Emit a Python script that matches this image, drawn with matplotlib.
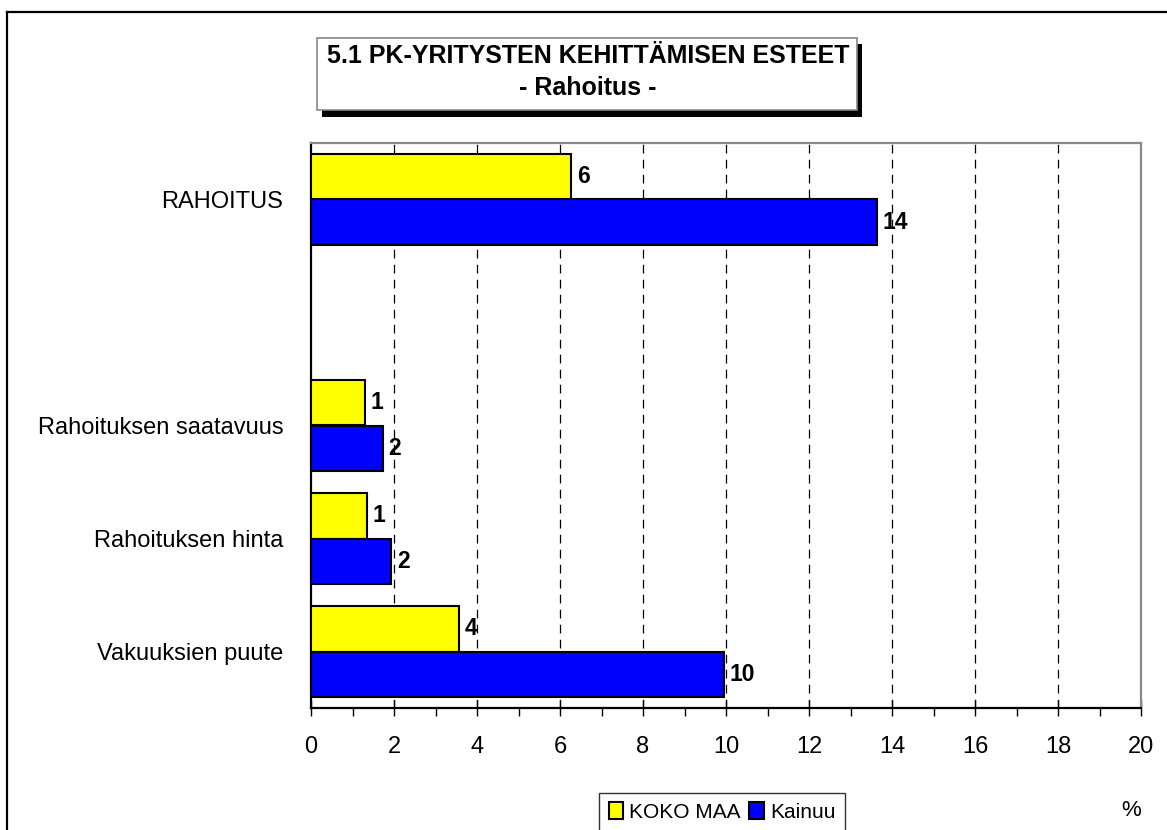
import matplotlib.pyplot as plt
from matplotlib.patches import Rectangle
from matplotlib.lines import Line2D
from matplotlib.ticker import MultipleLocator
import numpy as np

plt.rcParams['font.family'] = ['Liberation Sans', 'DejaVu Sans']

# data, bottom to top as drawn
categories = ["Vakuuksien puute", "Rahoituksen hinta", "Rahoituksen saatavuus", "", "RAHOITUS"]
koko_maa = [3.57, 1.35, 1.30, np.nan, 6.27]
kainuu = [9.95, 1.93, 1.73, np.nan, 13.64]
series_names = ["KOKO MAA", "Kainuu"]
x_ticks = list(range(0, 21, 2))

W, H = 1167, 830
fig = plt.figure(figsize=(W / 100, H / 100), dpi=100)

def fx(px):
    return px / W

def fy(py):
    return 1 - py / H

# outer frame (left + top only visible)
fig.add_artist(Line2D([fx(7), fx(7)], [fy(12), 0], color='black', lw=1.6, transform=fig.transFigure))
fig.add_artist(Line2D([fx(7), 1], [fy(12), fy(12)], color='black', lw=1.6, transform=fig.transFigure))

ax = fig.add_axes([fx(311), fy(708), fx(1141) - fx(311), (708 - 143) / H])

y = np.arange(len(categories))
h = 0.405
b1 = ax.barh(y + h / 2, koko_maa, height=h, color='#FFFF00', edgecolor='black', lw=1.5, label=series_names[0], zorder=3)
b2 = ax.barh(y - h / 2, kainuu, height=h, color='#0000FF', edgecolor='black', lw=1.5, label=series_names[1], zorder=3)

for bars, vals in ((b1, koko_maa), (b2, kainuu)):
    for bar, v in zip(bars, vals):
        if np.isnan(v):
            continue
        ax.text(v + 0.14, bar.get_y() + bar.get_height() / 2, "%d" % round(v),
                va='center', ha='left', fontsize=16.5, fontweight='bold', zorder=4)

ax.set_xlim(0, 20)
ax.set_ylim(-0.5, len(categories) - 0.5)
ax.set_xticks(x_ticks)
ax.xaxis.set_minor_locator(MultipleLocator(1))
ax.tick_params(axis='x', which='major', direction='inout', length=12, width=1, labelsize=17, pad=14)
ax.tick_params(axis='x', which='minor', direction='out', length=6, width=1)
ax.set_yticks(y)
ax.set_yticklabels(categories)
ax.tick_params(axis='y', length=0, labelsize=17, pad=20)

for t in x_ticks[1:-1]:
    ax.axvline(t, color='black', lw=0.9, ls=(0, (7, 5)), zorder=1)

ax.spines['left'].set_color('black')
ax.spines['left'].set_linewidth(1.6)
ax.spines['bottom'].set_color('black')
ax.spines['bottom'].set_linewidth(1.6)
ax.spines['top'].set_color('#888888')
ax.spines['top'].set_linewidth(1.6)
ax.spines['right'].set_color('#888888')
ax.spines['right'].set_linewidth(1.6)

# title box with shadow
fig.add_artist(Rectangle((fx(322), fy(117)), fx(862) - fx(322), (117 - 44) / H,
                         facecolor='black', edgecolor='none', transform=fig.transFigure))
fig.add_artist(Rectangle((fx(317), fy(110)), fx(857) - fx(317), (110 - 38) / H,
                         facecolor='white', edgecolor='#888888', lw=1.2, transform=fig.transFigure))
fig.text(fx(588), fy(56), "5.1 PK-YRITYSTEN KEHITTÄMISEN ESTEET", ha='center', va='center',
         fontsize=18, fontweight='bold')
fig.text(fx(588), fy(88), "- Rahoitus -", ha='center', va='center', fontsize=18, fontweight='bold')

leg = fig.legend(handles=[b1, b2], loc='center', bbox_to_anchor=(fx(722), fy(812)), ncol=2,
                 fontsize=15, frameon=True, fancybox=False, edgecolor='black',
                 handlelength=0.7, handleheight=0.9, handletextpad=0.3, columnspacing=0.4,
                 borderpad=0.45)
leg.get_frame().set_linewidth(1)

fig.text(fx(1131), fy(810), "%", ha='center', va='center', fontsize=16)

fig.savefig("out.png", dpi=100)
